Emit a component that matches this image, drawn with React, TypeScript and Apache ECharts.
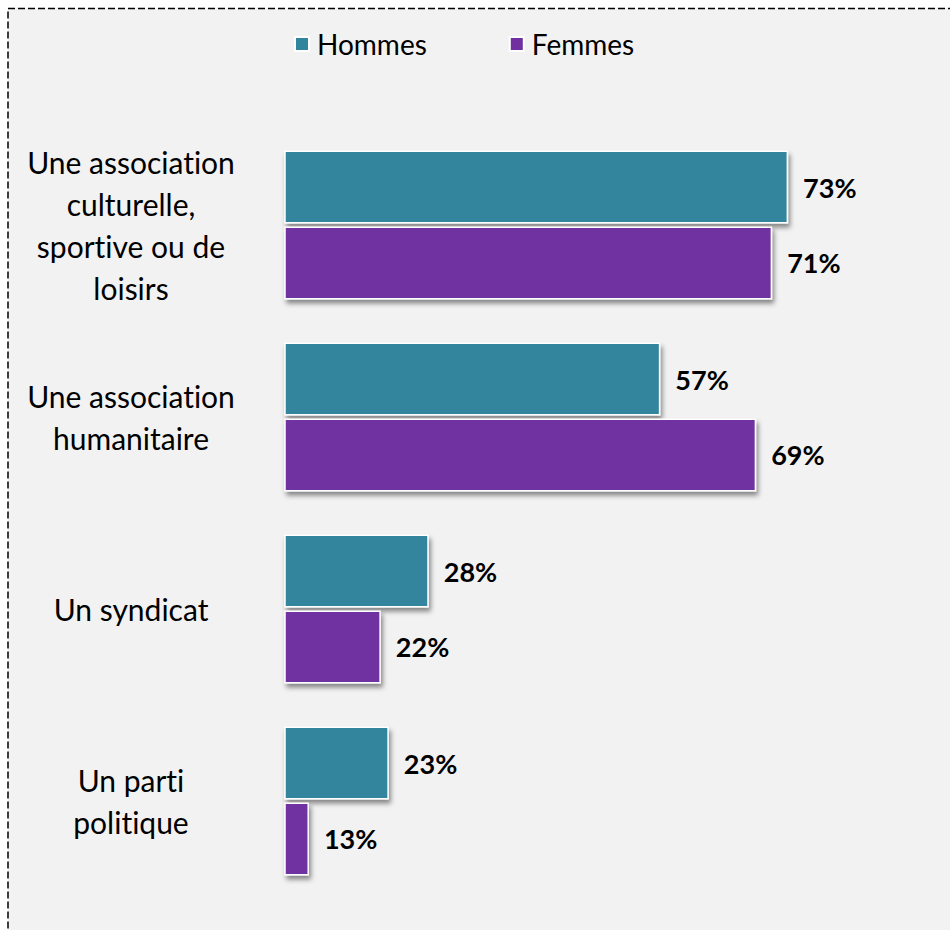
import React, { useEffect, useRef } from "react";
import * as echarts from "echarts";

const categories = [
  "Une association\nculturelle,\nsportive ou de\nloisirs",
  "Une association\nhumanitaire",
  "Un syndicat",
  "Un parti\npolitique",
];
const seriesNames = ["Hommes", "Femmes"];
const hommes = [73, 57, 28, 23];
const femmes = [71, 69, 22, 13];
const colors = ["#31859c", "#7030a0"];

export default function App() {
  const ref = useRef<HTMLDivElement>(null);
  useEffect(() => {
    if (!ref.current) return;
    const chart = echarts.init(ref.current, null, { renderer: "svg" });
    const font = "Lato, 'Noto Sans', sans-serif";
    const mkSeries = (name: string, data: number[], color: string) => ({
      name,
      type: "bar",
      data,
      barWidth: 73,
      barGap: "4%",
      itemStyle: {
        color,
        borderColor: "#ffffff",
        borderWidth: 1.5,
        shadowColor: "rgba(0,0,0,0.45)",
        shadowBlur: 5,
        shadowOffsetX: 2,
        shadowOffsetY: 4,
      },
      label: {
        show: true,
        position: "right",
        distance: 15,
        formatter: "{c}%",
        color: "#000",
        fontFamily: font,
        fontWeight: "bold",
        fontSize: 27,
      },
    });
    chart.setOption({
      animation: false,
      backgroundColor: "#ffffff",
      graphic: [
        {
          type: "rect",
          z: -10,
          silent: true,
          shape: { x: 8, y: 8.5, width: 960, height: 940 },
          style: {
            fill: "#f2f2f2",
            stroke: "#000",
            lineWidth: 1.5,
            lineDash: [7, 3],
          },
        },
      ],
      legend: {
        data: seriesNames,
        left: 289,
        top: 25,
        icon: "rect",
        itemWidth: 14,
        itemHeight: 14,
        itemGap: 82,
        textStyle: {
          fontFamily: font,
          fontSize: 28,
          color: "#000",
          padding: [0, 0, 0, 3],
        },
      },
      grid: { left: 285, top: 129, width: 559, height: 768 },
      xAxis: {
        type: "value",
        min: 10,
        max: 80,
        show: false,
      },
      yAxis: {
        type: "category",
        data: categories,
        inverse: true,
        axisLine: { show: false },
        axisTick: { show: false },
        axisLabel: {
          align: "center",
          margin: 154,
          fontFamily: font,
          fontSize: 30,
          lineHeight: 42,
          color: "#000",
        },
      },
      series: [
        mkSeries(seriesNames[0], hommes, colors[0]),
        mkSeries(seriesNames[1], femmes, colors[1]),
      ],
    });
    return () => chart.dispose();
  }, []);
  return (
    <div
      ref={ref}
      style={{
        position: "fixed",
        left: 0,
        top: 0,
        width: 950,
        height: 930,
        fontVariantLigatures: "none",
      }}
    />
  );
}
